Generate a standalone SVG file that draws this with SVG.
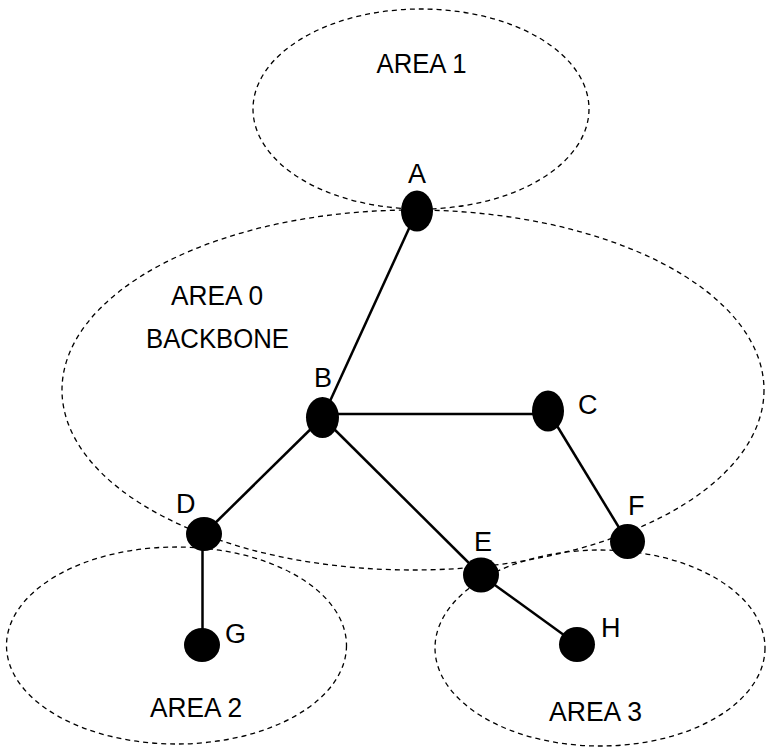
<svg xmlns="http://www.w3.org/2000/svg" width="766" height="748" viewBox="0 0 766 748">
<style>
.area{fill:none;stroke:#000;stroke-width:1.3;stroke-dasharray:5 4}
.edge{stroke:#000;stroke-width:2.5;fill:none}
.node{fill:#000}
text{font-family:"Liberation Sans",Arial,sans-serif;font-size:27px;fill:#000}
.mid{text-anchor:middle}
</style>
<rect width="766" height="748" fill="#fff"/>
<g id="areas">
<g id="area1"><ellipse class="area" cx="421" cy="109" rx="168" ry="100"/><text class="mid" x="421.5" y="73" textLength="90" lengthAdjust="spacingAndGlyphs">AREA 1</text></g>
<g id="area0"><ellipse class="area" cx="413" cy="390" rx="351" ry="180"/><text class="mid" x="217" y="305" textLength="92" lengthAdjust="spacingAndGlyphs">AREA 0</text><text class="mid" x="217.5" y="348" textLength="143" lengthAdjust="spacingAndGlyphs">BACKBONE</text></g>
<g id="area2"><ellipse class="area" cx="176.5" cy="645.5" rx="170" ry="98.5"/><text class="mid" x="196" y="717" textLength="92" lengthAdjust="spacingAndGlyphs">AREA 2</text></g>
<g id="area3"><ellipse class="area" cx="600" cy="648" rx="165" ry="98"/><text class="mid" x="595.5" y="721" textLength="93" lengthAdjust="spacingAndGlyphs">AREA 3</text></g>
</g>
<g id="connectors">
<line class="edge" x1="417" y1="211" x2="322.5" y2="417.5"/>
<line class="edge" x1="322.5" y1="414" x2="548" y2="414"/>
<line class="edge" x1="322.5" y1="417.5" x2="204" y2="534"/>
<line class="edge" x1="322.5" y1="417.5" x2="481" y2="575"/>
<line class="edge" x1="548" y1="411" x2="627.5" y2="541.5"/>
<line class="edge" x1="202.5" y1="534" x2="202.5" y2="645"/>
<line class="edge" x1="481" y1="575" x2="577" y2="644.5"/>
</g>
<g id="node-A"><ellipse class="node" cx="417" cy="211" rx="16" ry="20.5"/><text x="408" y="183">A</text></g>
<g id="node-B"><ellipse class="node" cx="322.5" cy="417.5" rx="16.5" ry="20.5"/><text x="314" y="387">B</text></g>
<g id="node-C"><ellipse class="node" cx="548" cy="411" rx="16" ry="20.5"/><text x="578" y="414">C</text></g>
<g id="node-D"><ellipse class="node" cx="204" cy="534" rx="18" ry="17"/><text x="176" y="513">D</text></g>
<g id="node-E"><ellipse class="node" cx="481" cy="575" rx="18" ry="17.5"/><text x="474" y="551">E</text></g>
<g id="node-F"><ellipse class="node" cx="627.5" cy="541.5" rx="17.5" ry="17.5"/><text x="628" y="515">F</text></g>
<g id="node-G"><ellipse class="node" cx="202" cy="645" rx="18" ry="17"/><text x="225" y="643">G</text></g>
<g id="node-H"><ellipse class="node" cx="577" cy="644.5" rx="18" ry="17.5"/><text x="601" y="637">H</text></g>
</svg>
